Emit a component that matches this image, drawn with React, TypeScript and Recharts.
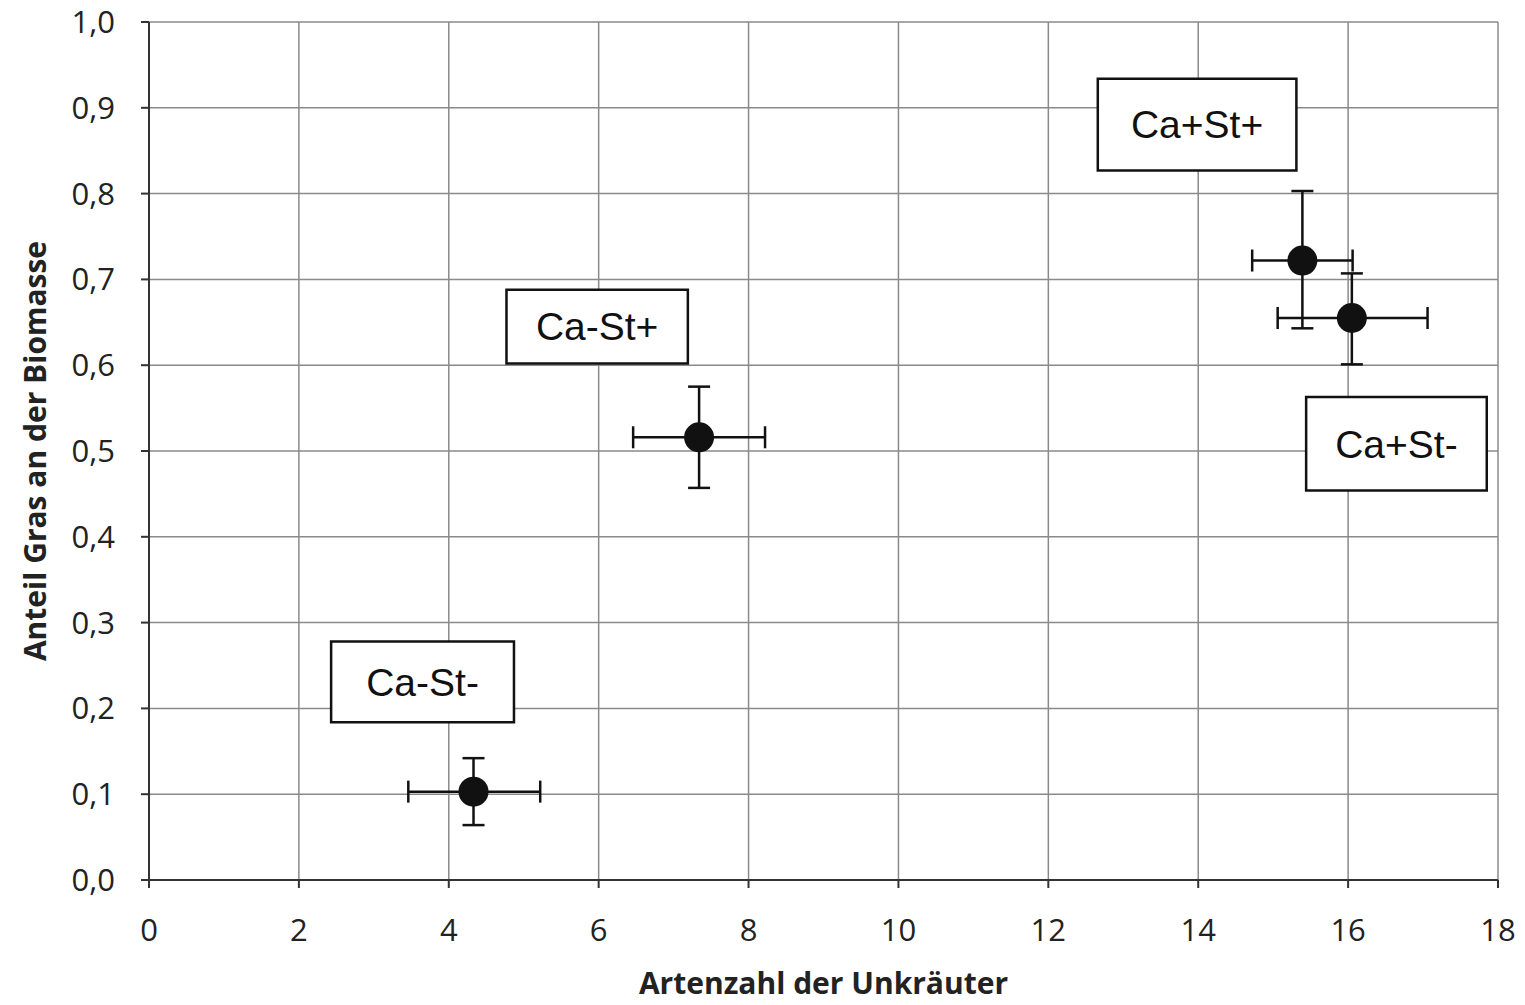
import {
  ErrorBar,
  CartesianGrid,
  ReferenceArea,
  Scatter,
  ScatterChart,
  XAxis,
  YAxis,
} from 'recharts'

// treatment groups and their means
const groups = ['Ca-St-', 'Ca-St+', 'Ca+St+', 'Ca+St-']
const speciesCount = [4.33, 7.34, 15.39, 16.05]
const grassShare = [0.103, 0.516, 0.722, 0.655]

// asymmetric error bars: [below, above]
const countErrLow = [0.87, 0.88, 0.67, 0.99]
const countErrHigh = [0.89, 0.88, 0.67, 1.01]
const shareErrLow = [0.039, 0.059, 0.079, 0.054]
const shareErrHigh = [0.039, 0.059, 0.081, 0.052]

const xTicks = [0, 2, 4, 6, 8, 10, 12, 14, 16, 18]
const yTicks = [0, 0.1, 0.2, 0.3, 0.4, 0.5, 0.6, 0.7, 0.8, 0.9, 1.0]

// label boxes, in data units
const boxX1 = [2.43, 4.77, 15.44, 12.66]
const boxX2 = [4.87, 7.19, 17.85, 15.31]
const boxY1 = [0.184, 0.602, 0.454, 0.827]
const boxY2 = [0.278, 0.688, 0.563, 0.934]
const boxText = ['Ca-St-', 'Ca-St+', 'Ca+St-', 'Ca+St+']

const data = groups.map((g, i) => ({
  group: g,
  x: speciesCount[i],
  y: grassShare[i],
  xErr: [countErrLow[i], countErrHigh[i]],
  yErr: [shareErrLow[i], shareErrHigh[i]],
}))

const font = '"Open Sans", sans-serif'
const tickFont = { fontSize: 31, fill: '#222', fontFamily: font }
const titleFont = { fontSize: 30, fontWeight: 'bold', fill: '#222', fontFamily: font }

export default function App() {
  return (
    <div style={{ position: 'absolute', left: 0, top: 0, background: '#fff' }}>
      <ScatterChart
        width={1525}
        height={1005}
        margin={{ top: 22, right: 27, left: 0, bottom: 0 }}
      >
        <CartesianGrid stroke="#8a8a8a" strokeWidth={1.5} />
        <XAxis
          type="number"
          dataKey="x"
          domain={[0, 18]}
          ticks={xTicks}
          interval={0}
          height={125}
          tickSize={8}
          tickMargin={31}
          tick={tickFont}
          axisLine={{ stroke: '#333', strokeWidth: 2 }}
          tickLine={{ stroke: '#333', strokeWidth: 2 }}
          label={{
            value: 'Artenzahl der Unkräuter',
            position: 'insideBottom',
            offset: 11,
            ...titleFont,
          }}
        />
        <YAxis
          type="number"
          dataKey="y"
          domain={[0, 1]}
          ticks={yTicks}
          interval={0}
          width={149}
          tickSize={8}
          tickMargin={26}
          tick={tickFont}
          tickFormatter={(v: number) => v.toFixed(1).replace('.', ',')}
          axisLine={{ stroke: '#333', strokeWidth: 2 }}
          tickLine={{ stroke: '#333', strokeWidth: 2 }}
          label={{
            value: 'Anteil Gras an der Biomasse',
            angle: -90,
            position: 'insideLeft',
            offset: 35,
            ...titleFont,
            style: { textAnchor: 'middle' },
          }}
        />
        {boxText.map((t, i) => (
          <ReferenceArea
            key={t}
            x1={boxX1[i]}
            x2={boxX2[i]}
            y1={boxY1[i]}
            y2={boxY2[i]}
            fill="#fff"
            fillOpacity={1}
            stroke="#111"
            strokeWidth={2.5}
            label={{
              value: t,
              position: 'center',
              fontSize: 39,
              fill: '#111',
              fontFamily: '"Liberation Sans", Arial, sans-serif',
            }}
          />
        ))}
        <Scatter
          data={data}
          isAnimationActive={false}
          shape={(p: any) => <circle cx={p.cx} cy={p.cy} r={15} fill="#111" />}
        >
          <ErrorBar
            dataKey="xErr"
            direction="x"
            width={11}
            stroke="#111"
            strokeWidth={2.5}
            isAnimationActive={false}
          />
          <ErrorBar
            dataKey="yErr"
            direction="y"
            width={11}
            stroke="#111"
            strokeWidth={2.5}
            isAnimationActive={false}
          />
        </Scatter>
      </ScatterChart>
    </div>
  )
}
